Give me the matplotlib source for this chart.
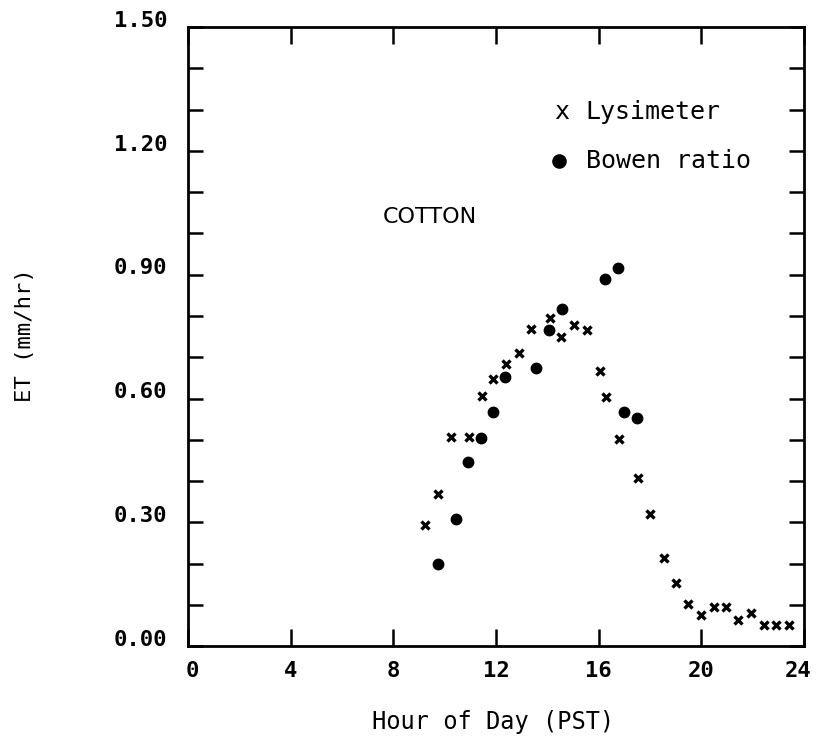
import numpy as np
import matplotlib
matplotlib.use("Agg")
import matplotlib.pyplot as plt
import matplotlib.transforms as mtransforms

# lysimeter ET (mm/hr) by hour of day
lys_hour = [9.25, 9.75, 10.25, 10.95, 11.45, 11.9, 12.4, 12.9, 13.35, 14.1,
            14.55, 15.05, 15.55, 16.05, 16.3, 16.8, 17.55, 18.0, 18.55, 19.0,
            19.5, 20.0, 20.5, 20.95, 21.45, 21.95, 22.45, 22.9, 23.4]
lys_et = [0.294, 0.369, 0.507, 0.507, 0.606, 0.647, 0.684, 0.711, 0.769, 0.796,
          0.750, 0.779, 0.765, 0.668, 0.603, 0.502, 0.408, 0.320, 0.214, 0.153,
          0.102, 0.076, 0.094, 0.094, 0.063, 0.080, 0.051, 0.051, 0.051]

# bowen ratio ET
bow_hour = [9.75, 10.45, 10.93, 11.4, 11.9, 12.37, 13.58, 14.07, 14.56,
            16.26, 16.75, 17.0, 17.5]
bow_et = [0.200, 0.308, 0.446, 0.504, 0.567, 0.653, 0.674, 0.766, 0.817,
          0.890, 0.916, 0.567, 0.552]

xticks = [0, 4, 8, 12, 16, 20, 24]
ylabels = [0.0, 0.3, 0.6, 0.9, 1.2, 1.5]

mono = "DejaVu Sans Mono"

fig = plt.figure(figsize=(8.17, 7.54), dpi=100)
ax = fig.add_axes([0.230, 0.143, 0.754, 0.821])

ax.plot(lys_hour, lys_et, "x", color="black", markersize=6, mew=2.4)
ax.plot(bow_hour, bow_et, "o", color="black", markersize=7.5)

ax.set_xlim(0, 24)
ax.set_ylim(0, 1.5)

yt = np.arange(0, 1.51, 0.1)
ax.set_xticks(xticks)
ax.set_xticklabels([str(t) for t in xticks], fontsize=16, family=mono, weight="bold")
ax.set_yticks(yt)
ax.set_yticklabels(["%.2f" % v if any(abs(v - l) < 1e-6 for l in ylabels) else ""
                    for v in yt], fontsize=16, family=mono, weight="bold")

ax.tick_params(axis="x", direction="in", length=12, width=1.8, top=True, pad=11)
ax.tick_params(axis="y", direction="in", length=11, width=1.8, right=True, pad=15)
for s in ax.spines.values():
    s.set_linewidth(2)

# old plotter labels sit a bit off their ticks
up = mtransforms.ScaledTranslation(0, 6 / 72, fig.dpi_scale_trans)
for lab in ax.get_yticklabels():
    lab.set_transform(lab.get_transform() + up)
xlabs = ax.get_xticklabels()
xlabs[0].set_transform(xlabs[0].get_transform() +
                       mtransforms.ScaledTranslation(3 / 72, 0, fig.dpi_scale_trans))
xlabs[-1].set_transform(xlabs[-1].get_transform() +
                        mtransforms.ScaledTranslation(-4 / 72, 0, fig.dpi_scale_trans))

fig.text(0.603, 0.042, "Hour of Day (PST)", fontsize=17, family=mono,
         ha="center", va="center")
fig.text(0.031, 0.555, "ET (mm/hr)", fontsize=16, family=mono,
         ha="center", va="center", rotation=90)

ax.text(7.6, 1.04, "COTTON", fontsize=16, va="center", ha="left")

# hand-drawn style legend
ax.text(14.55, 1.295, "x", fontsize=18, family=mono, va="center", ha="center")
ax.text(15.5, 1.295, "Lysimeter", fontsize=18, family=mono, va="center")
ax.plot([14.45], [1.175], "o", color="black", markersize=9.5)
ax.text(15.5, 1.175, "Bowen ratio", fontsize=18, family=mono, va="center")

fig.savefig("out.png", dpi=100)
